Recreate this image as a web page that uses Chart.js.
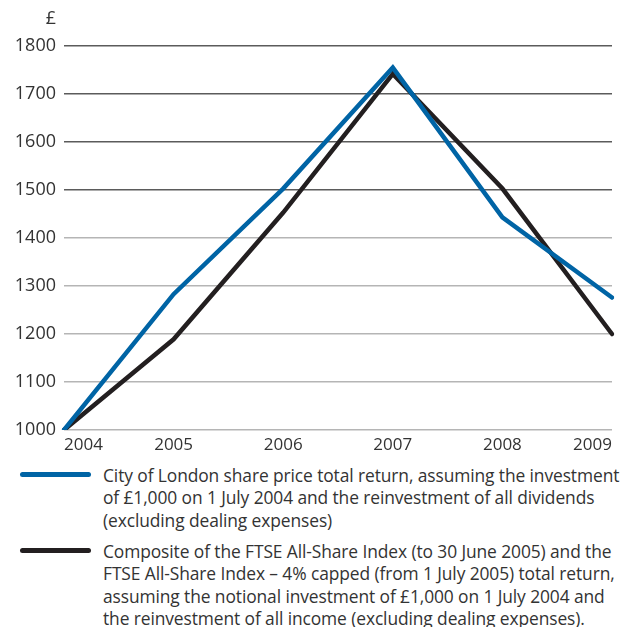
<!DOCTYPE html>
<html>
<head>
<meta charset="utf-8">
<script src="https://cdn.jsdelivr.net/npm/chart.js@4"></script>
<style>
  body{margin:0;background:#fff;font-family:"Open Sans",sans-serif;color:#333;}
  #wrap{position:relative;width:624px;height:627px;overflow:hidden;}
  #chartBox{position:absolute;left:0;top:0;width:624px;height:462px;}
  .sw{position:absolute;left:20px;width:71px;height:5px;border-radius:3px;}
  .txt{position:absolute;left:103px;font-size:17.4px;line-height:22.4px;white-space:nowrap;letter-spacing:-0.1px;}
</style>
</head>
<body>
<div id="wrap">
  <div id="chartBox"><canvas id="c"></canvas></div>
  <div class="sw" style="top:472px;background:#0064a5"></div>
  <div class="txt" style="top:464px">City of London share price total return, assuming the investment<br>of £1,000 on 1 July 2004 and the reinvestment of all dividends<br>(excluding dealing expenses)</div>
  <div class="sw" style="top:548px;background:#231f20"></div>
  <div class="txt" style="top:540px">Composite of the FTSE All-Share Index (to 30 June 2005) and the<br>FTSE All-Share Index – 4% capped (from 1 July 2005) total return,<br>assuming the notional investment of £1,000 on 1 July 2004 and<br>the reinvestment of all income (excluding dealing expenses).</div>
</div>
<script>
/* ---------- DATA ---------- */
const years = ['2004','2005','2006','2007','2008','2009'];
const cityOfLondon = [1000, 1283, 1503, 1755, 1443, 1276];
const ftseComposite = [1000, 1189, 1453, 1742, 1503, 1200];
const yMin = 1000, yMax = 1800, yStep = 100;

const BLUE = '#0064a5', BLACK = '#231f20';
const FONT = '"Open Sans", sans-serif';

// "£" unit label above the y tick column
const poundLabel = {
  id:'poundLabel',
  afterDraw(chart){
    const {ctx, chartArea} = chart;
    ctx.save();
    ctx.font = '18px ' + FONT;
    ctx.fillStyle = '#333';
    ctx.textAlign = 'right';
    ctx.textBaseline = 'middle';
    ctx.fillText('£', chartArea.left - 8, 19);
    ctx.restore();
  }
};

new Chart(document.getElementById('c'), {
  type:'line',
  data:{
    labels: years,
    datasets:[
      {label:'FTSE composite', data:ftseComposite, borderColor:BLACK, borderWidth:4.5, order:2},
      {label:'City of London', data:cityOfLondon, borderColor:BLUE, borderWidth:4.5, order:1}
    ]
  },
  options:{
    responsive:true, maintainAspectRatio:false, animation:false,
    layout:{padding:{top:46, right:12, left:0, bottom:0}},
    elements:{point:{radius:0}, line:{tension:0, borderJoinStyle:'miter', borderCapStyle:'round'}},
    plugins:{legend:{display:false}, tooltip:{enabled:false}},
    scales:{
      x:{
        offset:false,
        grid:{display:false, drawTicks:false},
        border:{display:false},
        ticks:{align:'inner', color:'#333', font:{family:FONT, size:17}, padding:5, maxRotation:0},
        afterFit(s){ s.height = 32; }
      },
      y:{
        min:yMin, max:yMax,
        grid:{drawTicks:false, lineWidth:1.5, color:c => c.tick && c.tick.value >= 1500 ? '#5b5b5b' : '#b5b5b5'},
        border:{display:false},
        ticks:{stepSize:yStep, color:'#333', font:{family:FONT, size:18}, padding:8, callback:v => String(v)},
        afterFit(s){ s.width = 64; }
      }
    }
  },
  plugins:[poundLabel]
});
</script>
</body>
</html>
